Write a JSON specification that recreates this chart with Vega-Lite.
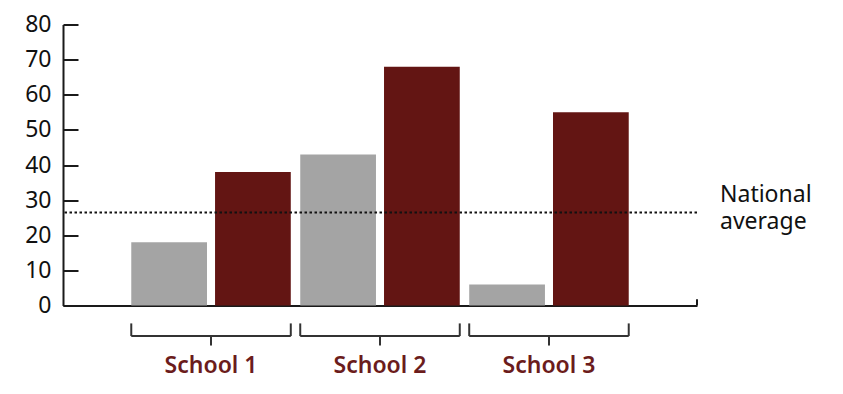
{
  "$schema": "https://vega.github.io/schema/vega-lite/v6.json",
  "width": 634,
  "height": 281,
  "autosize": "none",
  "padding": {"left": 63, "top": 24.5, "right": 146, "bottom": 88.5},
  "background": "white",
  "config": {
    "view": {"stroke": null},
    "font": "Noto Sans",
    "axisY": {
      "title": null, "grid": false, "tickCount": 8, "labelOverlap": false,
      "domainWidth": 2, "domainColor": "#1a1a1a",
      "tickWidth": 2, "tickColor": "#1a1a1a", "tickSize": -15,
      "labelPadding": 27, "labelFontSize": 23, "labelColor": "#111111"
    },
    "axisX": {
      "title": null, "ticks": false, "tickSize": 0, "labelAngle": 0,
      "domainWidth": 2, "domainColor": "#1a1a1a",
      "labelPadding": 67, "labelBaseline": "alphabetic",
      "labelFontSize": 23, "labelFontWeight": 600, "labelColor": "#6b1c1c"
    }
  },
  "data": {"values": [
    {"school": "School 1", "group": "A", "value": 18},
    {"school": "School 1", "group": "B", "value": 38},
    {"school": "School 2", "group": "A", "value": 43},
    {"school": "School 2", "group": "B", "value": 68},
    {"school": "School 3", "group": "A", "value": 6},
    {"school": "School 3", "group": "B", "value": 55}
  ]},
  "layer": [
    {
      "mark": {"type": "bar"},
      "encoding": {
        "x": {
          "field": "school", "type": "nominal", "title": null,
          "scale": {"paddingInner": 0.056, "paddingOuter": 0.404}
        },
        "xOffset": {"field": "group", "type": "nominal", "scale": {"paddingInner": 0.096, "paddingOuter": 0}},
        "y": {
          "field": "value", "type": "quantitative", "title": null,
          "scale": {"domain": [0, 80], "nice": false}
        },
        "color": {
          "field": "group", "type": "nominal",
          "scale": {"domain": ["A", "B"], "range": ["#a4a4a4", "#631513"]},
          "legend": null
        }
      }
    },
    {
      "data": {"values": [{"label": "National average", "avg": 26.5}]},
      "layer": [
        {
          "mark": {"type": "rule", "strokeDash": [2.5, 2.5], "strokeWidth": 2, "color": "#111111"},
          "encoding": {"y": {"field": "avg", "type": "quantitative", "title": null}}
        },
        {
          "mark": {"type": "text", "text": ["National", "average"], "x": "width", "dx": 23, "dy": -10.5,
                   "align": "left", "baseline": "alphabetic", "lineHeight": 27, "fontSize": 23, "color": "#111111"},
          "encoding": {"y": {"field": "avg", "type": "quantitative", "title": null}}
        },
        {
          "mark": {"type": "rule", "x": "width", "strokeWidth": 2, "color": "#1a1a1a"},
          "encoding": {"y": {"datum": 0}, "y2": {"datum": 1.8}}
        }
      ]
    },
    {
      "data": {"values": [{"school": "School 1"}, {"school": "School 2"}, {"school": "School 3"}]},
      "layer": [
        {
          "mark": {"type": "rule", "strokeWidth": 2, "color": "#333333"},
          "encoding": {"x": {"field": "school", "type": "nominal", "bandPosition": 0, "title": null}, "y": {"datum": -5.1}, "y2": {"datum": -8.7}}
        },
        {
          "mark": {"type": "rule", "strokeWidth": 2, "color": "#333333"},
          "encoding": {"x": {"field": "school", "type": "nominal", "bandPosition": 1, "title": null}, "y": {"datum": -5.1}, "y2": {"datum": -8.7}}
        },
        {
          "mark": {"type": "rule", "strokeWidth": 2, "color": "#333333"},
          "encoding": {"x": {"field": "school", "type": "nominal", "bandPosition": 0.5, "title": null}, "y": {"datum": -8.7}, "y2": {"datum": -11.4}}
        },
        {
          "mark": {"type": "bar", "fill": null, "stroke": "#333333", "strokeWidth": 2},
          "encoding": {"x": {"field": "school", "type": "nominal", "title": null}, "y": {"datum": -8.7}, "y2": {"datum": -8.7}}
        }
      ]
    }
  ]
}
